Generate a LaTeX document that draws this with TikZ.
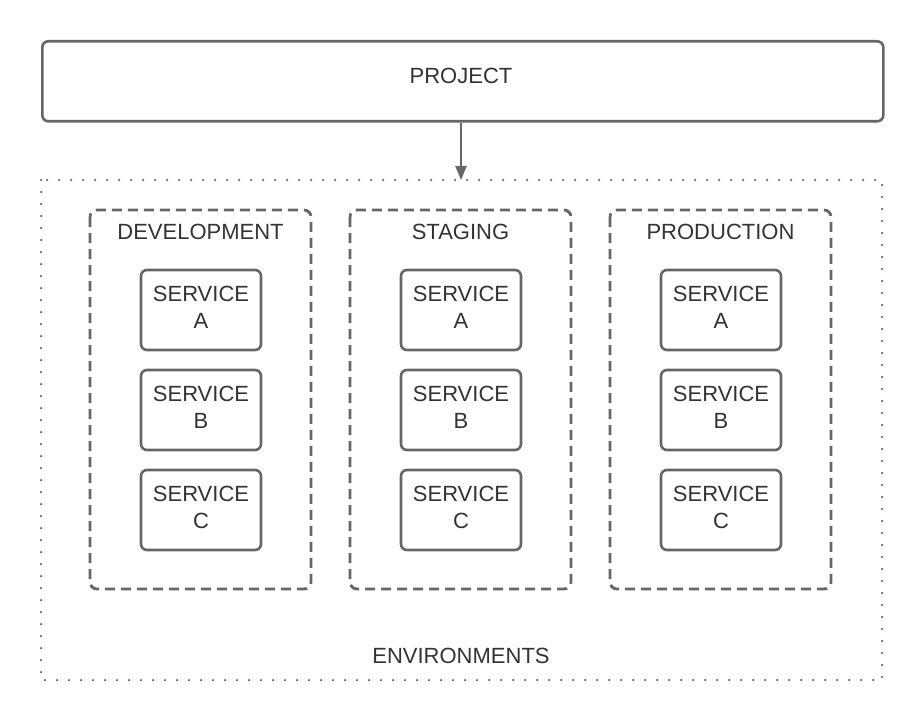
\documentclass[tikz,border=0pt]{standalone}
\usepackage{fontspec}
\setmainfont{Liberation Sans}
\usetikzlibrary{arrows.meta}
\definecolor{linegray}{HTML}{666666}
\definecolor{textgray}{HTML}{333333}
\tikzset{
  px/.style={x=1pt,y=-1pt},
  projbox/.style={draw=linegray,line width=2.6pt,rounded corners=6pt,fill=white},
  envbox/.style={draw=linegray,line width=2.5pt,line cap=round,dash pattern=on 0pt off 12pt},
  stagebox/.style={draw=linegray,line width=2.8pt,rounded corners=7pt,dash pattern=on 10pt off 6pt},
  svcbox/.style={draw=linegray,line width=2.6pt,rounded corners=6pt,fill=white,minimum width=120pt,minimum height=80pt,inner sep=0pt,align=center,text=textgray,font=\fontsize{22}{27}\selectfont},
  lbl/.style={text=textgray,font=\fontsize{22}{26}\selectfont,inner sep=0pt},
  arr/.style={draw=linegray,line width=2.4pt,-{Triangle[length=14pt,width=11pt]}}
}
\begin{document}
\begin{tikzpicture}[px]
\useasboundingbox (0,0) rectangle (923,722);
% project
\node[projbox,minimum width=841pt,minimum height=80pt,inner sep=0pt,anchor=north west] (project) at (41,40) {};
\node[lbl] (projlabel) at (461,76) {PROJECT};
% environments
\coordinate (envtl) at (41,180);
\coordinate (envbr) at (882,680);
\draw[envbox] (envtl) rectangle (envbr);
\coordinate (envtop) at (461,180);
\draw[arr] (project.south -| envtop) -- (envtop);
\node[lbl] (envlabel) at (461,656) {ENVIRONMENTS};
% stages
\foreach \nm/\lab/\x in {dev/DEVELOPMENT/90, stg/STAGING/350, prd/PRODUCTION/610}{
  \draw[stagebox] (\x,210) rectangle ++(221,379);
  \node[lbl] (\nm-label) at (\x+110.5,232) {\lab};
  \node[svcbox] (\nm-a) at (\x+111,310) {};
  \node[svcbox] (\nm-b) at (\x+111,410) {};
  \node[svcbox] (\nm-c) at (\x+111,510) {};
  \node[lbl,align=center,font=\fontsize{22}{27}\selectfont] at (\x+111,307) {SERVICE\\A};
  \node[lbl,align=center,font=\fontsize{22}{27}\selectfont] at (\x+111,407) {SERVICE\\B};
  \node[lbl,align=center,font=\fontsize{22}{27}\selectfont] at (\x+111,507) {SERVICE\\C};
}
\end{tikzpicture}
\end{document}
